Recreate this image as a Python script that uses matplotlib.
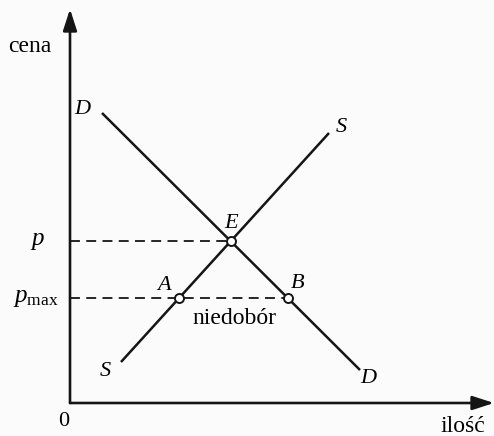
import numpy as np
import matplotlib.pyplot as plt

# Demand curve D and supply curve S (quantity, price), chart units
demand_q = [3.2, 29.0]
demand_p = [29.0, 3.3]
supply_q = [5.1, 25.9]
supply_p = [4.1, 27.0]
p_max = 10.5  # maximum (ceiling) price

# equilibrium E: where the two straight lines cross
d_slope = (demand_p[1] - demand_p[0]) / (demand_q[1] - demand_q[0])
s_slope = (supply_p[1] - supply_p[0]) / (supply_q[1] - supply_q[0])
d_icpt = demand_p[0] - d_slope * demand_q[0]
s_icpt = supply_p[0] - s_slope * supply_q[0]
q_eq = (s_icpt - d_icpt) / (d_slope - s_slope)
p_eq = d_icpt + d_slope * q_eq

# A on supply and B on demand at the ceiling price
q_a = (p_max - s_icpt) / s_slope
q_b = (p_max - d_icpt) / d_slope

plt.rcParams["font.family"] = ["Liberation Serif", "DejaVu Serif"]
plt.rcParams["mathtext.fontset"] = "custom"
plt.rcParams["mathtext.it"] = "Liberation Serif:italic"
plt.rcParams["mathtext.rm"] = "Liberation Serif"

ink = "#151515"

fig = plt.figure(figsize=(4.94, 4.36), dpi=100)
fig.patch.set_facecolor("#fbfbfb")
ax = fig.add_axes([0, 0, 1, 1])
ax.set_xlim(-7.0, 42.4)
ax.set_ylim(-3.3, 40.3)
ax.axis("off")

# axes with arrow heads
arrow = dict(arrowstyle="-|>,head_length=1.3,head_width=0.42", color=ink,
             lw=1.9, shrinkA=0, shrinkB=0)
ax.annotate("", xy=(0, 39.4), xytext=(0, 0), arrowprops=arrow,
            annotation_clip=False)
ax.annotate("", xy=(42.4, 0), xytext=(0, 0), arrowprops=arrow,
            annotation_clip=False)

ax.plot(demand_q, demand_p, color=ink, lw=1.8, solid_capstyle="butt")
ax.plot(supply_q, supply_p, color=ink, lw=1.8, solid_capstyle="butt")

dash = dict(color=ink, lw=1.3, linestyle=(0, (5.5, 3.5)))
ax.plot([0, q_eq], [p_eq, p_eq], **dash)
ax.plot([0, q_b], [p_max, p_max], **dash)

ax.plot([q_eq, q_a, q_b], [p_eq, p_max, p_max], "o", ms=6.5, mfc="white",
        mec=ink, mew=1.4, zorder=5)

# labels
ax.text(-6.2, 35.6, "cena", fontsize=17, va="center", ha="left")
ax.text(1.2, 29.3, "D", fontsize=16, style="italic", ha="center", va="center")
ax.text(29.0, 2.5, "D", fontsize=16, style="italic", ha="left", va="center")
ax.text(27.1, 27.6, "S", fontsize=16, style="italic", ha="center", va="center")
ax.text(3.5, 3.2, "S", fontsize=16, style="italic", ha="center", va="center")
ax.text(q_eq, p_eq + 1.8, "E", fontsize=16, style="italic", ha="center", va="center")
ax.text(q_a - 1.5, p_max + 1.2, "A", fontsize=16, style="italic", ha="center", va="center")
ax.text(q_b + 1.0, p_max + 1.5, "B", fontsize=16, style="italic", ha="center", va="center")
ax.text(-3.2, p_eq, "$p$", fontsize=18, ha="center", va="center")
ax.text(-3.4, p_max, r"$p_{\mathrm{max}}$", fontsize=18, ha="center", va="center")
ax.text((q_a + q_b) / 2 + 0.1, p_max - 2.0, "niedobór", fontsize=17, ha="center", va="center")
ax.text(-0.6, -1.8, "0", fontsize=16, ha="center", va="center")
ax.text(39.3, -2.3, "ilość", fontsize=17, ha="center", va="center")

plt.savefig("out.png", dpi=100, facecolor=fig.get_facecolor())
